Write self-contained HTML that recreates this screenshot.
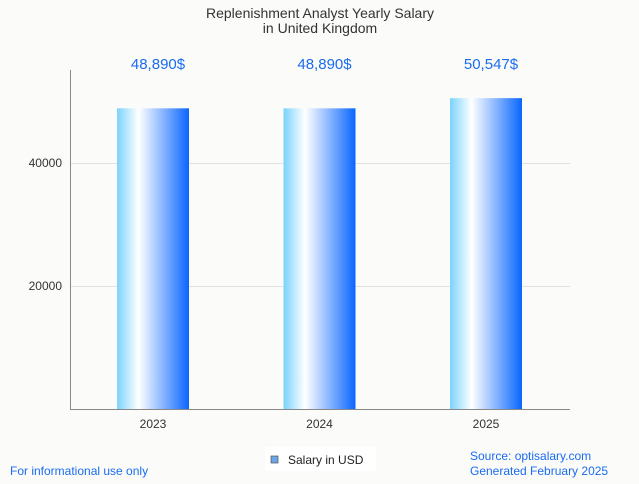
<!DOCTYPE html>
<html><head><meta charset="utf-8"><style>
body{margin:0;background:#fbfbf9;font-family:"Liberation Sans",sans-serif}
</style></head><body>
<svg width="639" height="479" xmlns="http://www.w3.org/2000/svg">
<defs><linearGradient id="g" x1="0" x2="1" y1="0" y2="0">
<stop offset="0" stop-color="#7ad3fc"/><stop offset="0.3" stop-color="#ffffff"/><stop offset="1" stop-color="#0a66ff"/></linearGradient></defs>
<rect width="639" height="479" fill="#fbfbf9"/>
<text x="320" y="18" text-anchor="middle" font-size="14" fill="#333">Replenishment Analyst Yearly Salary</text>
<text x="320" y="33" text-anchor="middle" font-size="14" fill="#333">in United Kingdom</text>
<g id="grid"></g><g id="bars"></g>
<line x1="70.5" y1="70" x2="70.5" y2="409" stroke="#888"/>
<line x1="70" y1="409.5" x2="570" y2="409.5" stroke="#888"/>
<rect x="265" y="447" width="111" height="24" fill="#fff"/>
<rect x="271" y="456" width="7" height="7" fill="#6aa5e8" stroke="#555" stroke-width="0.7"/>
<text x="288" y="464" font-size="12" fill="#222">Salary in USD</text>
<text x="10" y="475" font-size="12" fill="#1a6cf0">For informational use only</text>
<text x="470" y="460" font-size="12" fill="#1a6cf0">Source: optisalary.com</text>
<text x="470" y="475" font-size="12" fill="#1a6cf0">Generated February 2025</text>
</svg>
<script>
const categories=["2023","2024","2025"];
const values=[48890,48890,50547];
const valueLabels=["48,890$","48,890$","50,547$"];
const yTicks=[20000,40000];
const NS="http://www.w3.org/2000/svg";
const y=v=>409-v*(123/20000);
const xc=i=>153+i*166.5;
const grid=document.getElementById('grid'),bars=document.getElementById('bars');
function mk(tag,attrs,parent){const e=document.createElementNS(NS,tag);for(const k in attrs)e.setAttribute(k,attrs[k]);parent.appendChild(e);return e;}
yTicks.forEach(t=>{
 const l=mk('line',{x1:70,x2:570,y1:y(t)+0.5,y2:y(t)+0.5,stroke:'#e2e2e2'},grid);
 
 
 const tx=mk('text',{x:62,y:y(t)+4,'text-anchor':'end','font-size':12,fill:'#333'},grid);
 tx.textContent=t;
 
 
});
categories.forEach((c,i)=>{
 const r=mk('rect',{x:xc(i)-36,y:y(values[i]),width:72,height:409-y(values[i]),fill:'url(#g)'},bars);
 
 
 const v=mk('text',{x:xc(i)+5,y:69,'text-anchor':'middle','font-size':15,fill:'#1a6cf0'},bars);
 v.textContent=valueLabels[i];
 
 
 const t=mk('text',{x:xc(i),y:428,'text-anchor':'middle','font-size':12,fill:'#333'},bars);
 t.textContent=c;
 
 
});
</script>
</body></html>
